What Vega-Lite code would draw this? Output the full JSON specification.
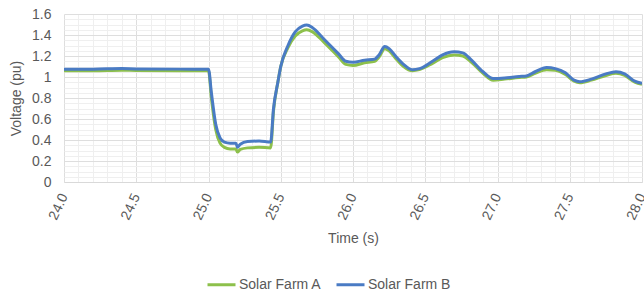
{
  "$schema": "https://vega.github.io/schema/vega-lite/v6.json",
  "width": 578,
  "height": 168,
  "autosize": "none",
  "padding": {"left": 64, "top": 14, "right": 2, "bottom": 110},
  "background": "white",
  "config": {
    "view": {"stroke": null},
    "font": "Liberation Sans"
  },
  "data": {
    "values": [
      {"t": 24.0, "v": 1.06, "s": "Solar Farm A"},
      {"t": 24.2, "v": 1.06, "s": "Solar Farm A"},
      {"t": 24.4, "v": 1.065, "s": "Solar Farm A"},
      {"t": 24.5, "v": 1.062, "s": "Solar Farm A"},
      {"t": 24.8, "v": 1.06, "s": "Solar Farm A"},
      {"t": 25.0, "v": 1.06, "s": "Solar Farm A"},
      {"t": 25.02, "v": 0.8, "s": "Solar Farm A"},
      {"t": 25.05, "v": 0.5, "s": "Solar Farm A"},
      {"t": 25.08, "v": 0.37, "s": "Solar Farm A"},
      {"t": 25.11, "v": 0.33, "s": "Solar Farm A"},
      {"t": 25.15, "v": 0.315, "s": "Solar Farm A"},
      {"t": 25.19, "v": 0.315, "s": "Solar Farm A"},
      {"t": 25.2, "v": 0.285, "s": "Solar Farm A"},
      {"t": 25.22, "v": 0.31, "s": "Solar Farm A"},
      {"t": 25.27, "v": 0.325, "s": "Solar Farm A"},
      {"t": 25.35, "v": 0.33, "s": "Solar Farm A"},
      {"t": 25.43, "v": 0.325, "s": "Solar Farm A"},
      {"t": 25.45, "v": 0.68, "s": "Solar Farm A"},
      {"t": 25.48, "v": 0.95, "s": "Solar Farm A"},
      {"t": 25.5, "v": 1.1, "s": "Solar Farm A"},
      {"t": 25.55, "v": 1.28, "s": "Solar Farm A"},
      {"t": 25.6, "v": 1.39, "s": "Solar Farm A"},
      {"t": 25.65, "v": 1.44, "s": "Solar Farm A"},
      {"t": 25.68, "v": 1.45, "s": "Solar Farm A"},
      {"t": 25.72, "v": 1.43, "s": "Solar Farm A"},
      {"t": 25.8, "v": 1.33, "s": "Solar Farm A"},
      {"t": 25.9, "v": 1.19, "s": "Solar Farm A"},
      {"t": 25.95, "v": 1.12, "s": "Solar Farm A"},
      {"t": 26.0, "v": 1.11, "s": "Solar Farm A"},
      {"t": 26.08, "v": 1.135, "s": "Solar Farm A"},
      {"t": 26.15, "v": 1.15, "s": "Solar Farm A"},
      {"t": 26.18, "v": 1.19, "s": "Solar Farm A"},
      {"t": 26.22, "v": 1.27, "s": "Solar Farm A"},
      {"t": 26.25, "v": 1.25, "s": "Solar Farm A"},
      {"t": 26.3, "v": 1.17, "s": "Solar Farm A"},
      {"t": 26.35, "v": 1.1, "s": "Solar Farm A"},
      {"t": 26.41, "v": 1.06, "s": "Solar Farm A"},
      {"t": 26.46, "v": 1.07, "s": "Solar Farm A"},
      {"t": 26.55, "v": 1.13, "s": "Solar Farm A"},
      {"t": 26.62, "v": 1.185, "s": "Solar Farm A"},
      {"t": 26.7, "v": 1.21, "s": "Solar Farm A"},
      {"t": 26.76, "v": 1.2, "s": "Solar Farm A"},
      {"t": 26.82, "v": 1.14, "s": "Solar Farm A"},
      {"t": 26.9, "v": 1.035, "s": "Solar Farm A"},
      {"t": 26.97, "v": 0.97, "s": "Solar Farm A"},
      {"t": 27.05, "v": 0.98, "s": "Solar Farm A"},
      {"t": 27.15, "v": 0.995, "s": "Solar Farm A"},
      {"t": 27.2, "v": 1.0, "s": "Solar Farm A"},
      {"t": 27.26, "v": 1.035, "s": "Solar Farm A"},
      {"t": 27.34, "v": 1.07, "s": "Solar Farm A"},
      {"t": 27.4, "v": 1.065, "s": "Solar Farm A"},
      {"t": 27.47, "v": 1.025, "s": "Solar Farm A"},
      {"t": 27.53, "v": 0.96, "s": "Solar Farm A"},
      {"t": 27.57, "v": 0.945, "s": "Solar Farm A"},
      {"t": 27.65, "v": 0.97, "s": "Solar Farm A"},
      {"t": 27.75, "v": 1.015, "s": "Solar Farm A"},
      {"t": 27.82, "v": 1.035, "s": "Solar Farm A"},
      {"t": 27.88, "v": 1.015, "s": "Solar Farm A"},
      {"t": 27.95, "v": 0.95, "s": "Solar Farm A"},
      {"t": 28.0, "v": 0.93, "s": "Solar Farm A"},

      {"t": 24.0, "v": 1.075, "s": "Solar Farm B"},
      {"t": 24.2, "v": 1.075, "s": "Solar Farm B"},
      {"t": 24.4, "v": 1.08, "s": "Solar Farm B"},
      {"t": 24.5, "v": 1.077, "s": "Solar Farm B"},
      {"t": 24.8, "v": 1.075, "s": "Solar Farm B"},
      {"t": 25.0, "v": 1.075, "s": "Solar Farm B"},
      {"t": 25.02, "v": 0.85, "s": "Solar Farm B"},
      {"t": 25.05, "v": 0.55, "s": "Solar Farm B"},
      {"t": 25.08, "v": 0.42, "s": "Solar Farm B"},
      {"t": 25.11, "v": 0.38, "s": "Solar Farm B"},
      {"t": 25.15, "v": 0.37, "s": "Solar Farm B"},
      {"t": 25.19, "v": 0.37, "s": "Solar Farm B"},
      {"t": 25.2, "v": 0.33, "s": "Solar Farm B"},
      {"t": 25.22, "v": 0.36, "s": "Solar Farm B"},
      {"t": 25.27, "v": 0.385, "s": "Solar Farm B"},
      {"t": 25.35, "v": 0.39, "s": "Solar Farm B"},
      {"t": 25.43, "v": 0.38, "s": "Solar Farm B"},
      {"t": 25.45, "v": 0.7, "s": "Solar Farm B"},
      {"t": 25.48, "v": 0.95, "s": "Solar Farm B"},
      {"t": 25.5, "v": 1.1, "s": "Solar Farm B"},
      {"t": 25.55, "v": 1.3, "s": "Solar Farm B"},
      {"t": 25.6, "v": 1.43, "s": "Solar Farm B"},
      {"t": 25.65, "v": 1.485, "s": "Solar Farm B"},
      {"t": 25.68, "v": 1.495, "s": "Solar Farm B"},
      {"t": 25.72, "v": 1.47, "s": "Solar Farm B"},
      {"t": 25.8, "v": 1.36, "s": "Solar Farm B"},
      {"t": 25.9, "v": 1.22, "s": "Solar Farm B"},
      {"t": 25.95, "v": 1.15, "s": "Solar Farm B"},
      {"t": 26.0, "v": 1.14, "s": "Solar Farm B"},
      {"t": 26.08, "v": 1.16, "s": "Solar Farm B"},
      {"t": 26.15, "v": 1.17, "s": "Solar Farm B"},
      {"t": 26.18, "v": 1.21, "s": "Solar Farm B"},
      {"t": 26.22, "v": 1.29, "s": "Solar Farm B"},
      {"t": 26.25, "v": 1.27, "s": "Solar Farm B"},
      {"t": 26.3, "v": 1.19, "s": "Solar Farm B"},
      {"t": 26.35, "v": 1.12, "s": "Solar Farm B"},
      {"t": 26.41, "v": 1.07, "s": "Solar Farm B"},
      {"t": 26.46, "v": 1.08, "s": "Solar Farm B"},
      {"t": 26.55, "v": 1.15, "s": "Solar Farm B"},
      {"t": 26.62, "v": 1.21, "s": "Solar Farm B"},
      {"t": 26.7, "v": 1.24, "s": "Solar Farm B"},
      {"t": 26.76, "v": 1.23, "s": "Solar Farm B"},
      {"t": 26.82, "v": 1.16, "s": "Solar Farm B"},
      {"t": 26.9, "v": 1.05, "s": "Solar Farm B"},
      {"t": 26.97, "v": 0.985, "s": "Solar Farm B"},
      {"t": 27.05, "v": 0.99, "s": "Solar Farm B"},
      {"t": 27.15, "v": 1.005, "s": "Solar Farm B"},
      {"t": 27.2, "v": 1.01, "s": "Solar Farm B"},
      {"t": 27.26, "v": 1.05, "s": "Solar Farm B"},
      {"t": 27.34, "v": 1.09, "s": "Solar Farm B"},
      {"t": 27.4, "v": 1.08, "s": "Solar Farm B"},
      {"t": 27.47, "v": 1.04, "s": "Solar Farm B"},
      {"t": 27.53, "v": 0.97, "s": "Solar Farm B"},
      {"t": 27.57, "v": 0.955, "s": "Solar Farm B"},
      {"t": 27.65, "v": 0.98, "s": "Solar Farm B"},
      {"t": 27.75, "v": 1.03, "s": "Solar Farm B"},
      {"t": 27.82, "v": 1.05, "s": "Solar Farm B"},
      {"t": 27.88, "v": 1.03, "s": "Solar Farm B"},
      {"t": 27.95, "v": 0.96, "s": "Solar Farm B"},
      {"t": 28.0, "v": 0.94, "s": "Solar Farm B"}
    ]
  },
  "mark": {"type": "line", "strokeWidth": 3, "clip": true, "interpolate": "monotone"},
  "encoding": {
    "x": {
      "field": "t",
      "type": "quantitative",
      "scale": {"domain": [24, 28], "nice": false, "zero": false},
      "axis": {
        "title": "Time (s)",
        "titleFont": "Liberation Sans",
        "titleFontSize": 14,
        "titleFontWeight": "normal",
        "titleColor": "#595959",
        "titlePadding": 10,
        "values": [24, 24.1, 24.2, 24.3, 24.4, 24.5, 24.6, 24.7, 24.8, 24.9, 25, 25.1, 25.2, 25.3, 25.4, 25.5, 25.6, 25.7, 25.8, 25.9, 26, 26.1, 26.2, 26.3, 26.4, 26.5, 26.6, 26.7, 26.8, 26.9, 27, 27.1, 27.2, 27.3, 27.4, 27.5, 27.6, 27.7, 27.8, 27.9, 28],
        "labelExpr": "round(datum.value*10) % 5 === 0 ? format(datum.value, '.1f') : ''",
        "labelAngle": -65,
        "labelAlign": "right",
        "labelBaseline": "middle",
        "labelFontSize": 14,
        "labelColor": "#595959",
        "labelPadding": 12,
        "labelOverlap": false,
        "labelBound": false,
        "labelFlush": false,
        "ticks": false,
        "domain": true,
        "domainColor": "#d9d9d9",
        "grid": true,
        "gridColor": {"condition": {"test": "round(datum.value*10) % 5 === 0", "value": "#dedede"}, "value": "#efefef"},
        "gridWidth": 1
      }
    },
    "y": {
      "field": "v",
      "type": "quantitative",
      "scale": {"domain": [0, 1.6], "nice": false},
      "axis": {
        "title": "Voltage (pu)",
        "titleFont": "Liberation Sans",
        "titleFontSize": 14,
        "titleFontWeight": "normal",
        "titleColor": "#595959",
        "titlePadding": 8,
        "values": [0, 0.05, 0.1, 0.15, 0.2, 0.25, 0.3, 0.35, 0.4, 0.45, 0.5, 0.55, 0.6, 0.65, 0.7, 0.75, 0.8, 0.85, 0.9, 0.95, 1, 1.05, 1.1, 1.15, 1.2, 1.25, 1.3, 1.35, 1.4, 1.45, 1.5, 1.55, 1.6],
        "labelExpr": "round(datum.value*100) % 20 === 0 ? format(datum.value, '~g') : ''",
        "labelFontSize": 14,
        "labelColor": "#595959",
        "labelPadding": 13,
        "labelOverlap": false,
        "labelBound": false,
        "ticks": false,
        "domain": false,
        "grid": true,
        "gridColor": {"condition": {"test": "round(datum.value*100) % 20 === 0", "value": "#dedede"}, "value": "#efefef"},
        "gridWidth": 1
      }
    },
    "color": {
      "field": "s",
      "type": "nominal",
      "scale": {"domain": ["Solar Farm A", "Solar Farm B"], "range": ["#8dc04b", "#4a7bc4"]},
      "legend": {
        "title": null,
        "orient": "none",
        "legendX": 142,
        "legendY": 255,
        "direction": "horizontal",
        "symbolType": "stroke",
        "symbolSize": 784,
        "symbolStrokeWidth": 3,
        "labelFontSize": 14,
        "labelColor": "#595959",
        "labelOffset": 2,
        "columnPadding": 8
      }
    }
  }
}
